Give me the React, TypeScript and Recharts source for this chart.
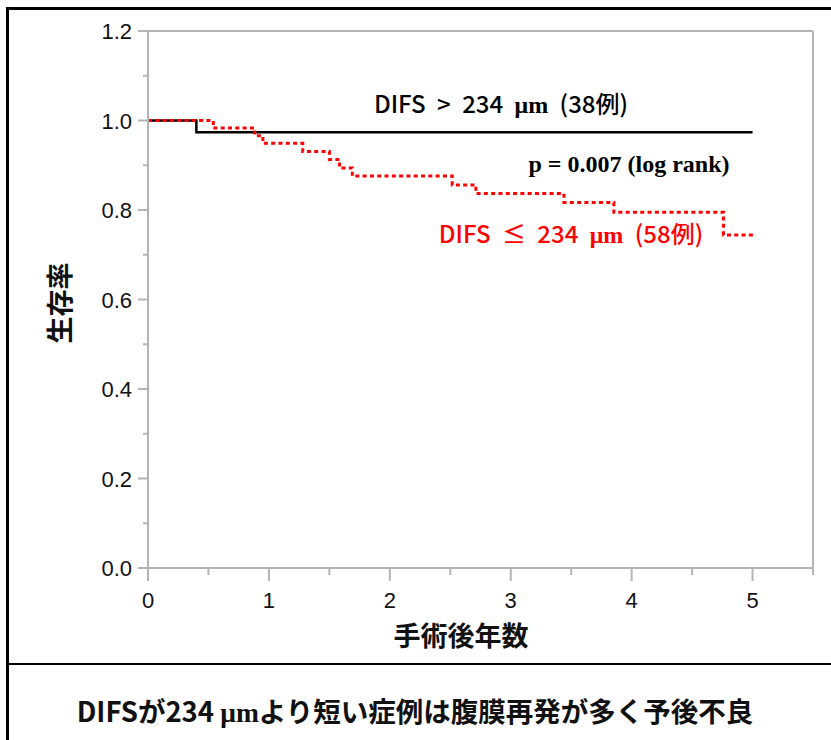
import React from "react";
import { LineChart, Line, XAxis, YAxis, ReferenceLine } from "recharts";

// Kaplan-Meier steps
const longYears = [0, 0.4, 5.0];
const longSurvival = [1.0, 0.974, 0.974];

const shortYears = [0, 0.54, 0.883, 0.95, 1.28, 1.5, 1.584, 1.69, 2.516, 2.712, 3.44, 3.853, 4.76, 5.03];
const shortSurvival = [1.0, 0.983, 0.966, 0.949, 0.931, 0.913, 0.894, 0.876, 0.856, 0.837, 0.817, 0.795, 0.744, 0.744];

const xTicks = [0, 0.5, 1, 1.5, 2, 2.5, 3, 3.5, 4, 4.5, 5, 5.5];
const yTicks = [0, 0.1, 0.2, 0.3, 0.4, 0.5, 0.6, 0.7, 0.8, 0.9, 1.0, 1.1, 1.2];

const longData = longYears.map((x, i) => ({ x, y: longSurvival[i] }));
const shortData = shortYears.map((x, i) => ({ x, y: shortSurvival[i] }));

const AXIS = "#b4b4b4";
const SANS = "'Liberation Sans', Arial, 'Noto Sans CJK JP', sans-serif";
const JP = "'Noto Sans CJK JP', 'Liberation Sans', sans-serif";
const SERIF = "'Liberation Serif', 'Times New Roman', serif";

function XTick(props: any) {
  const { x, y, payload } = props;
  const major = Number.isInteger(payload.value);
  return (
    <g>
      <line x1={x} x2={x} y1={y} y2={y + (major ? 13 : 7)} stroke={AXIS} strokeWidth={2} />
      {major && (
        <text x={x} y={y + 40} textAnchor="middle" fontFamily={SANS} fontSize={22} fill="#111">
          {payload.value}
        </text>
      )}
    </g>
  );
}

function YTick(props: any) {
  const { x, y, payload } = props;
  const major = Math.round(payload.value * 10) % 2 === 0;
  return (
    <g>
      <line x1={x} x2={x - (major ? 10 : 5)} y1={y} y2={y} stroke={AXIS} strokeWidth={2} />
      {major && (
        <text x={x - 16} y={y + 8} textAnchor="end" fontFamily={SANS} fontSize={22} fill="#111">
          {payload.value.toFixed(1)}
        </text>
      )}
    </g>
  );
}

export default function App() {
  return (
    <div style={{ position: "absolute", left: 0, top: 0, width: 831, height: 740, background: "#fff", overflow: "hidden" }}>
      <div style={{ position: "absolute", left: 6, top: 7, width: 840, height: 740, borderLeft: "3px solid #000", borderTop: "3px solid #000" }} />
      <div style={{ position: "absolute", left: 6, top: 663, width: 840, height: 0, borderTop: "2px solid #000" }} />
      <div style={{ position: "absolute", left: 0, top: 0 }}>
        <LineChart width={831} height={664} margin={{ top: 31, right: 18, bottom: 36, left: 88 }}>
          <XAxis
            dataKey="x"
            type="number"
            domain={[0, 5.5]}
            ticks={xTicks}
            interval={0}
            height={60}
            tickSize={0}
            tickMargin={0}
            tickLine={false}
            axisLine={{ stroke: AXIS, strokeWidth: 2 }}
            tick={<XTick />}
            allowDuplicatedCategory={false}
          />
          <YAxis
            dataKey="y"
            type="number"
            domain={[0, 1.2]}
            ticks={yTicks}
            interval={0}
            width={60}
            tickSize={0}
            tickMargin={0}
            tickLine={false}
            axisLine={{ stroke: AXIS, strokeWidth: 2 }}
            tick={<YTick />}
          />
          <ReferenceLine y={1.2} stroke={AXIS} strokeWidth={2} />
          <ReferenceLine x={5.5} stroke={AXIS} strokeWidth={2} />
          <Line
            data={longData}
            dataKey="y"
            type="stepAfter"
            stroke="#000"
            strokeWidth={2.5}
            dot={false}
            activeDot={false}
            isAnimationActive={false}
          />
          <Line
            data={shortData}
            dataKey="y"
            type="stepAfter"
            stroke="#ff0000"
            strokeWidth={3}
            strokeDasharray="4 3.3"
            dot={false}
            activeDot={false}
            isAnimationActive={false}
          />
        </LineChart>
      </div>
      <svg width={831} height={740} style={{ position: "absolute", left: 0, top: 0, pointerEvents: "none" }}>
        <text x={501} y={113} textAnchor="middle" fontFamily={JP} fontSize={24} fontWeight={500} wordSpacing={6} fill="#000">
          DIFS &gt; 234 <tspan fontFamily={SERIF} fontWeight={700}>μm</tspan> (38例)
        </text>
        <text x={629} y={172} textAnchor="middle" fontFamily={SERIF} fontSize={24} fontWeight={700} fill="#000">
          p = 0.007 (log rank)
        </text>
        <text x={571} y={243} textAnchor="middle" fontFamily={JP} fontSize={24} fontWeight={500} wordSpacing={6} fill="#ff0000">
          DIFS ≤ 234 <tspan fontFamily={SERIF} fontWeight={700}>μm</tspan> (58例)
        </text>
        <text
          x={58}
          y={303}
          transform="rotate(-90 58 303)"
          textAnchor="middle"
          dominantBaseline="central"
          fontFamily={JP}
          fontSize={27}
          fontWeight={700}
          fill="#111"
        >
          生存率
        </text>
        <text x={461} y={646} textAnchor="middle" fontFamily={JP} fontSize={27} fontWeight={700} fill="#111">
          手術後年数
        </text>
        <text x={415} y={722} textAnchor="middle" fontFamily={JP} fontSize={27.5} fontWeight={700} fill="#111">
          DIFSが234 <tspan fontFamily={SERIF}>μm</tspan>より短い症例は腹膜再発が多く予後不良
        </text>
      </svg>
    </div>
  );
}
